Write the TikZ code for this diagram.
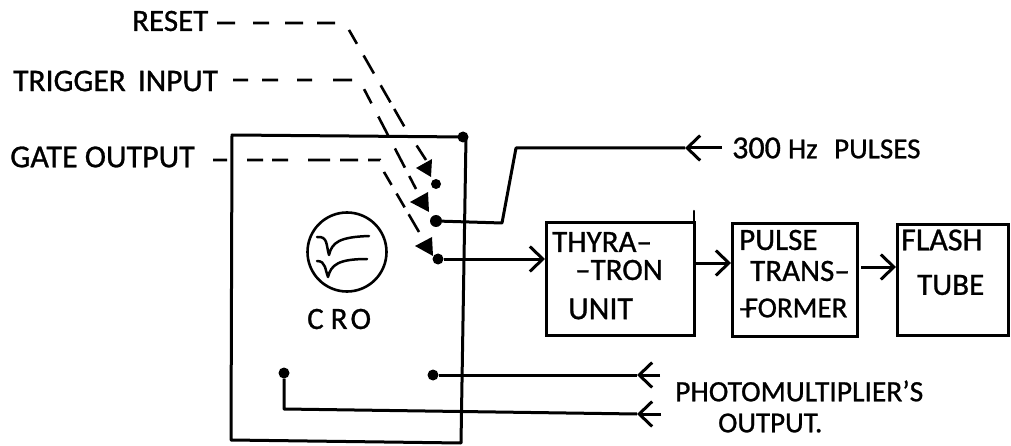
\documentclass[tikz,border=0pt]{standalone}
\usepackage{fontspec}
\setmainfont{Carlito}[FakeBold=0.9]
\usetikzlibrary{arrows.meta}
\tikzset{
 lbl/.style={inner sep=0pt,anchor=west,font=\fontsize{31}{34}\selectfont,text=black},
 blk/.style={draw=black,line width=3.2pt,inner sep=0pt,anchor=north west},
 wire/.style={draw=black,line width=3pt,line join=round},
 thinw/.style={draw=black,line width=2.5pt,line join=round,line cap=round},
 dashline/.style={draw=black,line width=2.6pt},
 dot/.style={circle,fill=black,inner sep=0pt,minimum size=#1},
 barb/.style={-{Straight Barb[length=13pt,width=25pt,line width=3pt]}},
 tri/.style={fill=black}
}
\begin{document}
\begin{tikzpicture}[x=1pt,y=-1pt]
\useasboundingbox (0,0) rectangle (1011,446);
\fill[white] (0,0) rectangle (1011,446);
% CRO box
\coordinate (ctl) at (232,135);
\coordinate (ctr) at (466,137);
\coordinate (cbr) at (461,443);
\coordinate (cbl) at (231,440);
\draw[wire] (ctl) -- (ctr) -- (cbr) -- (cbl) -- cycle;
\node[dot=11pt] (cor) at (463,137) {};
% blocks
\node[blk,minimum width=148pt,minimum height=113pt] (thy) at (545,221) {};
\node[blk,minimum width=125pt,minimum height=113pt] (pul) at (731,222) {};
\node[blk,minimum width=111pt,minimum height=111pt] (fla) at (896,223) {};
\coordinate (tk) at (694,211);
\coordinate (tkb) at (694,222);
\draw[thinw] (tk) -- (tkb);
% labels
\node[lbl] (lr) at (132,21) {RESET};
\node[lbl,font=\fontsize{31.5}{34}\selectfont] (lt) at (13,81) {TRIGGER\hspace{5pt} INPUT};
\node[lbl,font=\fontsize{32}{34}\selectfont] (lg) at (10,157) {GATE OUTPUT};
\node[lbl] (lc) at (307,319) {C\hspace{7pt}R\hspace{3pt}O};
\node[lbl] (l3) at (732,148) {\fontsize{32}{34}\selectfont 300 \fontsize{29}{32}\selectfont Hz\hspace{10pt} PULSES};
\node[lbl] (t1) at (552,242) {THYRA--};
\node[lbl] (t2) at (575,270) {--TRON};
\node[lbl,font=\fontsize{32}{34}\selectfont] (t3) at (568,309) {UNIT};
\node[lbl] (p1) at (739,240) {PULSE};
\node[lbl] (p2) at (750,271) {TRANS--};
\node[lbl,font=\fontsize{29}{32}\selectfont] (p3) at (738,308) {--\hspace{-8pt}FORMER};
\node[lbl,font=\fontsize{32}{34}\selectfont] (f1) at (901,240) {FLASH};
\node[lbl] (f2) at (917,285) {TUBE};
\node[lbl,font=\fontsize{29.5}{32}\selectfont] (ph) at (675,391) {PHOTOMULTIPLIER'S};
\node[lbl,font=\fontsize{29}{30}\selectfont] (ou) at (718,423) {OUTPUT.};
% terminals
\node[dot=10pt] (d1) at (436,184) {};
\node[dot=12pt] (d2) at (436,221) {};
\node[dot=11pt] (d3) at (438,259) {};
\node[dot=11pt] (d4) at (433,375) {};
\node[dot=11pt] (d5) at (284,373) {};
% triangles
\fill[tri] (416,168) -- (432,159) -- (431,177) -- cycle;
\fill[tri] (410,202) -- (428,192) -- (429,212) -- cycle;
\fill[tri] (415,246) -- (432,237) -- (433,256) -- cycle;
% dashed lines
\coordinate (r0) at (217,23); \coordinate (r1) at (345,23); \coordinate (r2) at (349,30); \coordinate (r3) at (404,126); \coordinate (r4) at (426,160);
\draw[dashline,dash pattern=on 18pt off 18pt on 16pt off 16pt on 18pt off 14pt on 18pt off 18pt on 16pt off 13.4pt on 20.8pt off 13.6pt on 19.7pt off 7.6pt on 20pt off 22.8pt on 30pt off 200pt]
  (r0) -- (r1) -- (r2) -- (r3) -- (r4);
\coordinate (t0) at (233,80); \coordinate (tc) at (358,80); \coordinate (tc2) at (364,89); \coordinate (te) at (416,189);
\draw[dashline,dash pattern=on 15pt off 14pt on 16pt off 19pt on 15pt off 21pt on 19pt off 17pt on 16pt off 14.9pt on 21pt off 14.9pt on 21.6pt off 9.5pt on 15.3pt off 200pt]
  (t0) -- (tc) -- (tc2) -- (te);
\coordinate (g0) at (213,160); \coordinate (gc) at (380,160); \coordinate (gc2) at (384,172); \coordinate (ge) at (419,232);
\draw[dashline,dash pattern=on 14pt off 20pt on 16pt off 9pt on 16pt off 20pt on 22pt off 10pt on 18pt off 10pt on 12pt off 12.6pt on 15pt off 10pt on 16pt off 8pt on 21pt off 200pt]
  (g0) -- (gc) -- (gc2) -- (ge);
% wires
\coordinate (a1) at (502,223); \coordinate (a2) at (516,148); \coordinate (a3) at (685,148); \coordinate (a4) at (722,148);
\draw[wire] (d2) -- (a1) -- (a2) -- (a3);
\draw[wire,barb] (a4) -- (a3);
\draw[wire,barb] (d3) -- (thy.west |- d3);
\coordinate (b1) at (695,263);
\draw[wire,barb] (b1) -- (pul.west |- b1);
\coordinate (b2) at (861,267);
\draw[wire,barb] (b2) -- (fla.west |- b2);
\coordinate (c1) at (637,375); \coordinate (c2) at (660,375);
\draw[wire] (d4) -- (c1);
\draw[wire,barb] (c2) -- (c1);
\coordinate (e1) at (284,409); \coordinate (e2) at (637,414); \coordinate (e3) at (661,414);
\draw[wire] (d5) -- (e1) -- (e2);
\draw[wire,barb] (e3) -- (e2);
% screen
\node[draw=black,line width=2.6pt,circle,minimum size=79pt,inner sep=0pt] (scr) at (347,252) {};
\draw[thinw] (317,237) .. controls (328,236) and (326,245) .. (329,255) .. controls (332,242) and (340,237) .. (369,236);
\draw[thinw] (317,261) .. controls (326,261) and (325,270) .. (328,277) .. controls (331,265) and (338,259) .. (367,259);
\end{tikzpicture}
\end{document}
